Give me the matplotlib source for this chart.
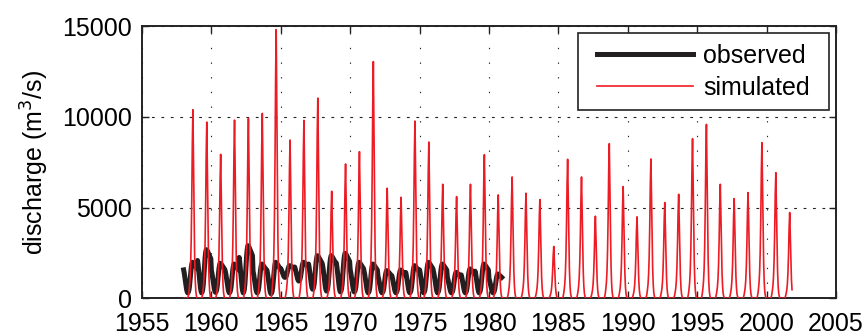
import numpy as np
import matplotlib
matplotlib.use("Agg")
import matplotlib.pyplot as plt
from matplotlib.patches import Rectangle

# ---- data ----
sim_years = list(range(1958, 2002))
sim_peaks = [10385, 9707, 7930, 9817, 9908, 10183, 14800, 8718, 9799, 11026,
             5897, 7399, 8077, 13040, 6062, 5568, 9762, 8608, 6282, 5604,
             6282, 7912, 5696, 6685, 5788, 5440, 2857, 7656, 6685, 4524,
             8516, 6154, 4487, 7674, 5275, 5733, 8791, 9579, 6282, 5495,
             5824, 8571, 6923, 4725]
# within-year hydrograph shape of the simulated series (24 half-month steps)
sim_shape = [0.0, 0.0, 0.0, 0.0, 0.0, 0.0, 0.0, 0.0, 0.01, 0.03, 0.06, 0.10,
             0.17, 0.30, 0.52, 0.82, 1.00, 0.74, 0.44, 0.22, 0.10, 0.04, 0.015, 0.0]

obs_years = list(range(1958, 1981))
obs_max = [1985, 2680, 1930, 1890, 2900, 1890, 1985, 1800, 1985, 2350, 2350, 2480,
           1985, 1890, 1525, 1560, 1800, 1985, 1890, 1430, 1620, 1890, 1340]
obs_min = [300, 300, 330, 300, 300, 300, 250, 1150, 950, 500, 400, 350,
           350, 300, 300, 300, 300, 300, 300, 300, 300, 300, 300]
obs_shape = [0.75, 0.65, 0.52, 0.38, 0.24, 0.12, 0.04, 0.0, 0.02, 0.08, 0.20, 0.40,
             0.62, 0.80, 0.93, 1.00, 0.99, 0.97, 0.94, 0.91, 0.88, 0.85, 0.82, 0.79]

xticks = [1955, 1960, 1965, 1970, 1975, 1980, 1985, 1990, 1995, 2000, 2005]
yticks = [0, 5000, 10000, 15000]

# ---- build series ----
n = len(sim_shape)
frac = np.arange(n) / n
sim_t = (np.array(sim_years)[:, None] + frac[None, :]).ravel()
sim_q = (np.array(sim_peaks)[:, None] * np.array(sim_shape)[None, :]).ravel()
sim_t, sim_q = sim_t[:-3], sim_q[:-3]

obs_t = (np.array(obs_years)[:, None] + frac[None, :]).ravel()
lo = np.array(obs_min)[:, None]
hi = np.array(obs_max)[:, None]
obs_q = (lo + (hi - lo) * np.array(obs_shape)[None, :]).ravel()
obs_t, obs_q = obs_t[:-1], obs_q[:-1]

plt.rcParams['font.family'] = ['Liberation Sans', 'DejaVu Sans']
plt.rcParams['font.size'] = 18

fig = plt.figure(figsize=(8.67, 3.36), dpi=100)
ax = fig.add_axes([0.1638, 0.1122, 0.8004, 0.8104])

ax.plot(obs_t, obs_q, color='#231f20', lw=3.6, label='observed', zorder=2,
        solid_joinstyle='round')
ax.plot(sim_t, sim_q, color='#ed1c24', lw=1.2, label='simulated', zorder=3)

ax.set_xlim(1955, 2005)
ax.set_ylim(0, 15000)
ax.set_xticks(xticks)
ax.set_yticks(yticks)
ax.tick_params(direction='in', top=True, right=True, length=5, width=1,
               color='#222222', labelsize=18)
ax.tick_params(axis='x', pad=10)
ax.tick_params(axis='y', pad=7)
for s in ax.spines.values():
    s.set_linewidth(1.4)
    s.set_color('#222222')

ax.xaxis.grid(True, color='#222222', lw=0.8, linestyle=(0, (1.2, 12)))
ax.yaxis.grid(True, color='#222222', lw=0.8, linestyle=(0, (2.5, 6)))
ax.set_axisbelow(True)

ax.set_ylabel('discharge (m$^3$/s)', fontsize=18, labelpad=8)

leg = ax.legend(loc='upper right', bbox_to_anchor=(0.9625, 0.935), fontsize=18,
                handlelength=3.84, frameon=False, borderpad=0.0,
                labelspacing=0.32, handletextpad=0.4, borderaxespad=0.0)
leg.set_zorder(6)

# legend frame with MATLAB-like wider horizontal padding
fig.canvas.draw()
bb = leg.get_window_extent(fig.canvas.get_renderer())
padx, pady = 19, 10.5
inv = ax.transAxes.inverted()
(x0, y0) = inv.transform((bb.x0 - padx, bb.y0 - pady))
(x1, y1) = inv.transform((bb.x1 + padx, bb.y1 + pady))
ax.add_patch(Rectangle((x0, y0), x1 - x0, y1 - y0, transform=ax.transAxes,
                       facecolor='white', edgecolor='#222222', lw=1.2, zorder=5))

fig.savefig('out.png', dpi=100)
